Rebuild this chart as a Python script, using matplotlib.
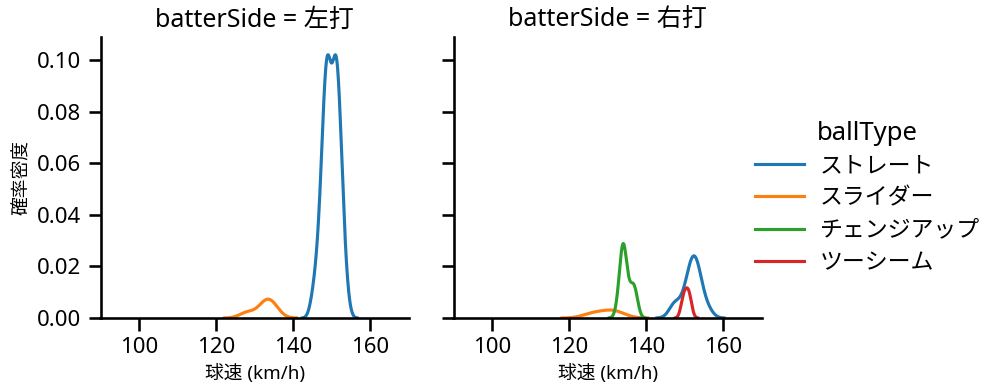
import numpy as np
import matplotlib
matplotlib.use("Agg")
import matplotlib.pyplot as plt
from matplotlib.lines import Line2D

plt.rcParams['font.family'] = ['Noto Sans', 'Noto Sans CJK JP', 'DejaVu Sans']

# ---------------- data ----------------
ball_types = ["ストレート", "スライダー", "チェンジアップ", "ツーシーム"]
colors = ["#1f77b4", "#ff7f0e", "#2ca02c", "#d62728"]
sides = ["左打", "右打"]

# pitch speeds (km/h) and how many pitches at that speed
left_straight_speeds = [145, 146, 147, 148, 149, 150, 151, 152, 153, 154]
left_straight_counts = [1, 2, 4, 9, 12, 7, 12, 9, 4, 1]
left_slider_speeds = [128, 132, 133, 134, 135]
left_slider_counts = [1, 1, 1, 1, 1]

right_straight_speeds = [147, 148, 150, 151, 152, 153, 154, 156]
right_straight_counts = [1, 1, 1, 2, 3, 3, 2, 1]
right_slider_speeds = [126, 130, 132.5]
right_slider_counts = [1, 1, 1]
right_change_speeds = [133, 134, 135, 136, 137]
right_change_counts = [1, 5, 1, 1, 2]
right_twoseam_speeds = [149.6, 150.5, 151.3]
right_twoseam_counts = [1, 1, 1]

x_ticks = [100, 120, 140, 160]
y_ticks = [0.00, 0.02, 0.04, 0.06, 0.08, 0.10]

panels = {
    "左打": {"ストレート": (left_straight_speeds, left_straight_counts),
             "スライダー": (left_slider_speeds, left_slider_counts)},
    "右打": {"ストレート": (right_straight_speeds, right_straight_counts),
             "スライダー": (right_slider_speeds, right_slider_counts),
             "チェンジアップ": (right_change_speeds, right_change_counts),
             "ツーシーム": (right_twoseam_speeds, right_twoseam_counts)},
}

n_total = sum(sum(c) for d in panels.values() for (_, c) in d.values())


def kde(samples, n_all, cut=3, gridsize=200):
    x = np.asarray(samples, float)
    n = x.size
    bw = x.std(ddof=1) * n ** (-1 / 5)
    grid = np.linspace(x.min() - cut * bw, x.max() + cut * bw, gridsize)
    dens = np.exp(-0.5 * ((grid[:, None] - x[None, :]) / bw) ** 2).sum(1)
    dens /= n * bw * np.sqrt(2 * np.pi)
    return grid, dens * n / n_all


fig = plt.figure(figsize=(9.99, 3.91), dpi=100)
W, H = 999, 391
ax_w = 308.5 / W
ax_b = (H - 318) / H
ax_h = 281.5 / H
ax1 = fig.add_axes([100.5 / W, ax_b, ax_w, ax_h])
ax2 = fig.add_axes([453.5 / W, ax_b, ax_w, ax_h], sharey=ax1)

for ax, side in zip([ax1, ax2], sides):
    for bt, col in zip(ball_types, colors):
        if bt in panels[side]:
            sp, ct = panels[side][bt]
            samples = np.repeat(sp, ct)
            gx, gy = kde(samples, n_total)
            ax.plot(gx, gy, color=col, lw=2.25, zorder=2)
    ax.set_xlim(89.9, 170.1)
    ax.set_ylim(0, 0.1093)
    ax.set_xticks(x_ticks)
    ax.set_yticks(y_ticks)
    ax.set_yticklabels([f"{v:.2f}" for v in y_ticks])
    for s in ["top", "right"]:
        ax.spines[s].set_visible(False)
    for s in ["left", "bottom"]:
        ax.spines[s].set_linewidth(1.875)
    ax.tick_params(width=1.875, length=9, labelsize=16, pad=5)
    ax.set_title(f"batterSide = {side}", fontsize=18, pad=7)
    ax.set_xlabel("球速 (km/h)", fontsize=13.5)

ax1.set_ylabel("確率密度", fontsize=13.5)
ax2.tick_params(labelleft=False)

handles = [Line2D([], [], color=c, lw=2.25) for c in colors]
leg = fig.legend(handles, ball_types, title="ballType", loc="center left",
                 bbox_to_anchor=(734 / W, 0.494), frameon=False, fontsize=16.5,
                 title_fontsize=18.5, handlelength=2.15, handletextpad=0.7,
                 labelspacing=0.36)

fig.savefig("out.png", dpi=100)
